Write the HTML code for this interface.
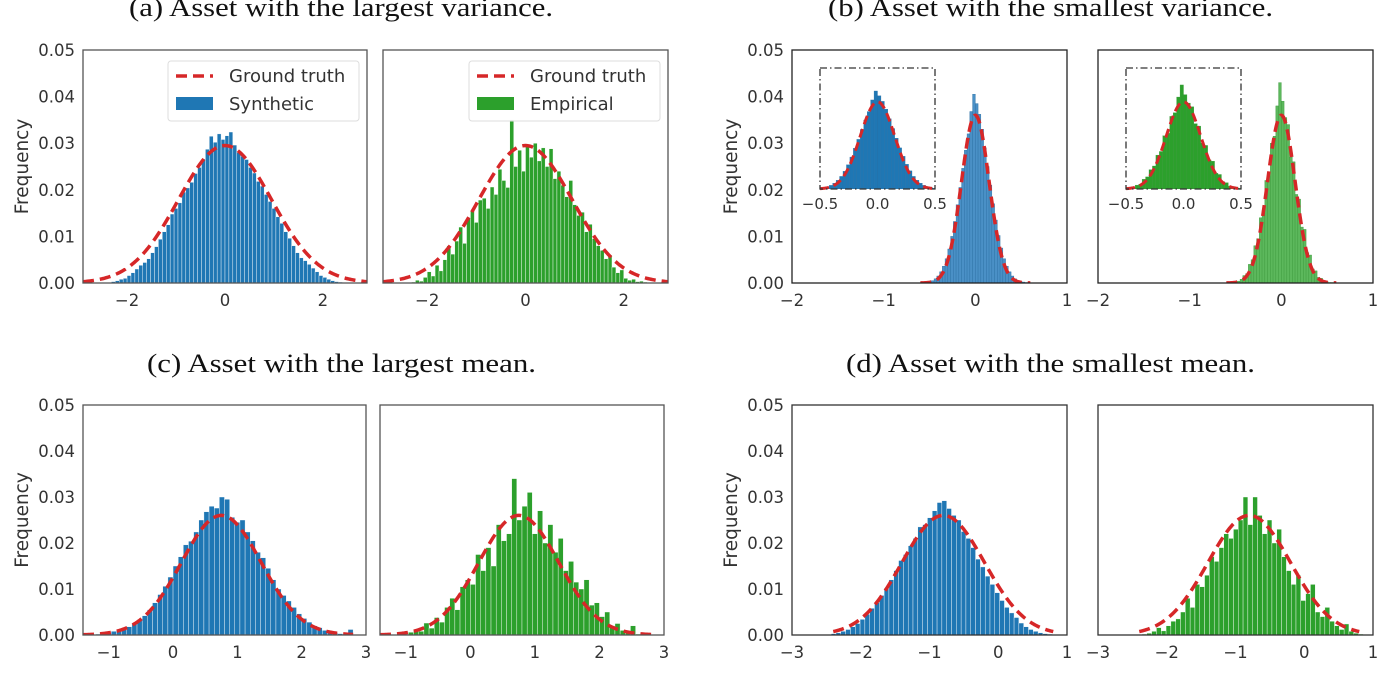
<!DOCTYPE html>
<html><head><meta charset="utf-8"><style>
html,body{margin:0;padding:0;background:#fff;}
svg{display:block;}
.tk{font-family:"DejaVu Sans","Liberation Sans",sans-serif;font-size:16.5px;fill:#333;}
.ttl{font-family:"Liberation Serif",serif;font-size:26px;fill:#111;}
</style></head><body>
<svg id="fig" width="1383" height="675" viewBox="0 0 1383 675" xmlns="http://www.w3.org/2000/svg">
<text class="ttl" x="129" y="16" textLength="424" lengthAdjust="spacingAndGlyphs">(a) Asset with the largest variance.</text>
<text class="ttl" x="828" y="16" textLength="445" lengthAdjust="spacingAndGlyphs">(b) Asset with the smallest variance.</text>
<text class="ttl" x="147" y="372" textLength="389" lengthAdjust="spacingAndGlyphs">(c) Asset with the largest mean.</text>
<text class="ttl" x="846" y="372" textLength="409" lengthAdjust="spacingAndGlyphs">(d) Asset with the smallest mean.</text>
</svg>
<script>
// ---- data (frequency values in units of 1e-3) ----
const yTicks = [0, 0.01, 0.02, 0.03, 0.04, 0.05];
const yTickLabels = ["0.00", "0.01", "0.02", "0.03", "0.04", "0.05"];
const xTicksA = [-2, 0, 2];
const xTicksB = [-2, -1, 0, 1];
const xTicksC = [-1, 0, 1, 2, 3];
const xTicksD = [-3, -2, -1, 0, 1];
const insetTicks = [-0.5, 0.0, 0.5];
const insetTickLabels = ["\u22120.5", "0.0", "0.5"];
const binStart = [-2.32, -0.6, -1.2, -2.5];
const binWidth = [0.08, 0.03, 0.08, 0.07];
const truthMean = [0, 0, 0.75, -0.8];
const truthSd = [0.95, 0.15, 0.62, 0.6];
const truthPeak = [0.0295, 0.036, 0.026, 0.026];
const synthA = [0.3,0.5,0.8,1.0,1.6,2.2,3.0,3.8,4.4,5.2,6.5,7.8,9.4,11.0,12.5,14.8,16.0,17.2,19.5,20.4,21.6,23.5,24.8,26.6,28.7,31.5,30.2,32.0,30.8,31.6,32.4,29.6,28.0,27.2,26.5,24.8,23.6,21.8,20.8,19.0,17.5,16.0,14.2,12.8,11.0,9.6,8.0,6.5,5.4,4.8,4.0,3.2,2.4,1.6,1.2,0.8,0.5,0.3,0.2,0.1];
const empA = [0.2,0.6,0.4,1.2,2.4,1.5,3.8,2.6,5.0,8.0,6.2,9.0,12.0,8.5,14.0,15.5,13.0,17.8,18.2,16.0,20.6,19.0,24.4,22.0,20.5,35.0,25.0,28.5,24.0,29.4,27.0,30.0,26.2,29.0,25.0,28.8,22.4,24.0,21.0,18.5,22.0,16.8,14.5,15.2,11.0,12.6,9.5,8.0,7.0,5.2,6.0,3.4,2.2,2.8,1.0,0.6,0.8,0.3,0.4,0.2];
const synthB = [0.1,0.1,0.2,0.3,0.5,0.9,1.5,2.4,3.6,5.2,7.3,10.0,13.2,16.8,20.5,24.6,28.5,32.0,36.8,40.5,38.5,36.2,33.0,29.0,25.0,21.0,17.0,13.5,10.2,7.5,5.2,3.6,2.4,1.5,0.9,0.5,0.3,0.2,0.1,0.05];
const empB = [0,0.1,0.1,0.2,0.4,0.8,1.6,2.0,4.0,5.0,8.0,9.5,14.0,15.5,22.0,23.0,30.0,31.5,38.0,43.0,39.0,35.5,34.0,27.0,26.0,19.0,18.0,12.0,11.5,6.5,6.0,3.0,2.6,1.2,1.0,0.4,0.3,0.1,0.1,0];
const synthC = [0.2,0.3,0.5,0.8,1.0,1.3,1.8,2.4,3.2,4.2,5.5,7.0,8.8,10.6,12.6,15.0,17.0,19.6,20.4,22.4,25.0,26.8,28.0,27.6,30.0,29.5,25.6,24.5,25.0,22.4,20.5,18.0,16.8,14.5,12.0,10.0,8.6,7.4,6.0,4.6,3.6,2.8,2.0,1.6,1.0,0.8,0.5,0.3,0.2,1.2];
const empC = [0.1,0.3,0.2,0.6,1.0,0.8,2.6,1.5,3.8,2.8,6.0,8.0,5.5,10.5,12.0,11.0,17.5,14.0,19.0,15.0,24.0,20.5,22.0,34.0,25.0,28.0,31.0,22.0,27.0,20.0,24.0,18.0,21.0,14.0,16.0,11.5,10.0,12.0,6.5,7.0,4.0,5.0,2.0,2.5,1.0,0.4,2.0,0.2,0.1,0];
const synthD = [0.1,0.3,0.5,0.8,1.2,1.8,2.5,3.4,4.5,5.8,7.0,8.6,10.2,12.0,14.0,16.2,17.5,19.4,21.0,23.5,24.0,25.5,27.0,28.8,29.2,27.5,26.0,25.0,22.5,21.0,19.0,16.5,14.8,12.8,11.0,9.2,7.5,6.0,4.8,3.8,2.6,1.8,1.2,0.8,0.5,0.3,0.2,0.1,0.05,0];
const empD = [0,0.1,0.2,0.4,0.8,1.6,0.9,2.0,3.0,3.5,5.0,8.0,6.0,11.0,10.5,13.0,17.0,16.0,19.0,22.0,21.0,23.0,25.0,30.0,24.0,30.0,26.0,22.0,25.0,20.0,23.0,17.0,14.0,11.0,13.0,7.5,9.0,11.0,5.0,4.0,6.0,3.0,2.0,1.2,2.4,0.8,0.4,0.2,0.1,0];

const NS = "http://www.w3.org/2000/svg";
const svg = document.getElementById("fig");
function mk(tag, attrs, parent) {
  const e = document.createElementNS(NS, tag);
  for (const k in attrs) e.setAttribute(k, attrs[k]);
  (parent || svg).appendChild(e);
  return e;
}
function fmt(v) { return v < 0 ? "\u2212" + Math.abs(v) : String(v); }

let clipId = 0;
function panel(p) {
  const g = mk("g", {});
  
  
  const sx = v => p.x0 + (v - p.xmin) / (p.xmax - p.xmin) * (p.x1 - p.x0);
  const sy = v => p.y1 - v / 0.05 * (p.y1 - p.y0);
  const cid = "clip" + (clipId++);
  const cp = mk("clipPath", { id: cid }, g);
  mk("rect", { x: p.x0, y: p.y0, width: p.x1 - p.x0, height: p.y1 - p.y0 }, cp);
  const bars = mk("g", { "clip-path": "url(#" + cid + ")" }, g);
  
  
  const vals = p.values;
  for (let i = 0; i < vals.length; i++) {
    const a = binStart[p.k] + i * binWidth[p.k];
    const xa = sx(a), xb = sx(a + binWidth[p.k]);
    const yv = sy(vals[i] / 1000);
    const r = mk("rect", { x: xa, y: yv, width: Math.max(0.5, xb - xa), height: p.y1 - yv, fill: p.color, stroke: p.edge, "stroke-width": 0.4 }, bars);
    
    
  }
  let d = "";
  const n = 200;
  for (let i = 0; i <= n; i++) {
    const xv = p.cmin + (p.cmax - p.cmin) * i / n;
    const yv = truthPeak[p.k] * Math.exp(-Math.pow(xv - truthMean[p.k], 2) / (2 * truthSd[p.k] * truthSd[p.k]));
    d += (i ? "L" : "M") + sx(xv).toFixed(2) + "," + sy(yv).toFixed(2);
  }
  const c = mk("path", { d: d, fill: "none", stroke: "#d62728", "stroke-width": 3.5, "stroke-dasharray": "11,6", "clip-path": "url(#" + cid + ")" }, g);
  
  
  const fr = mk("rect", { x: p.x0, y: p.y0, width: p.x1 - p.x0, height: p.y1 - p.y0, fill: "none", stroke: p.frame, "stroke-width": 1.3 }, g);
  
  
  for (const t of p.xticks) {
    const tl = mk("text", { class: "tk", x: sx(t), y: p.y1 + 23, "text-anchor": "middle" }, g);
    tl.textContent = fmt(t);
    
    
  }
  if (p.yaxis) {
    for (let i = 0; i < yTicks.length; i++) {
      const tl = mk("text", { class: "tk", x: p.x0 - 8, y: sy(yTicks[i]) + 6, "text-anchor": "end" }, g);
      tl.textContent = yTickLabels[i];
      
      
    }
    const yl = mk("text", { class: "tk", x: 0, y: 0, "text-anchor": "middle", style: "font-size:18.5px", transform: "translate(" + (p.x0 - 55) + "," + ((p.y0 + p.y1) / 2) + ") rotate(-90)" }, g);
    yl.textContent = "Frequency";
    
    
  }
  if (p.legend) {
    const lg = mk("g", {}, g);
    
    
    const lx = p.legend;
    mk("rect", { x: lx, y: p.y0 + 11, width: 191, height: 60, rx: 3, fill: "#fff", "fill-opacity": 0.85, stroke: "#ddd" }, lg);
    const ln = mk("line", { x1: lx + 8, y1: p.y0 + 26, x2: lx + 45, y2: p.y0 + 26, stroke: "#d62728", "stroke-width": 3.5, "stroke-dasharray": "11,6" }, lg);
    
    
    const t1 = mk("text", { class: "tk", x: lx + 61, y: p.y0 + 32, style: "font-size:18px" }, lg);
    t1.textContent = "Ground truth";
    const pt = mk("rect", { x: lx + 8, y: p.y0 + 47, width: 37, height: 13, fill: p.color }, lg);
    
    
    const t2 = mk("text", { class: "tk", x: lx + 61, y: p.y0 + 60, style: "font-size:18px" }, lg);
    t2.textContent = p.label;
  }
  if (p.inset) {
    const q = p.inset;
    const ig = mk("g", {}, g);
    
    
    const ix = v => q.x0 + (v + 0.5) / 1.0 * (q.x1 - q.x0);
    const ymax = truthPeak[p.k] / 0.72;
    const iy = v => q.y1 - v / ymax * (q.y1 - q.y0);
    const icid = "clip" + (clipId++);
    const icp = mk("clipPath", { id: icid }, ig);
    mk("rect", { x: q.x0, y: q.y0, width: q.x1 - q.x0, height: q.y1 - q.y0 }, icp);
    const ib = mk("g", { "clip-path": "url(#" + icid + ")" }, ig);
    for (let i = 0; i < vals.length; i++) {
      const a = binStart[p.k] + i * binWidth[p.k];
      const yv = iy(vals[i] / 1000);
      const r = mk("rect", { x: ix(a), y: yv, width: ix(a + binWidth[p.k]) - ix(a), height: q.y1 - yv, fill: p.insetColor, stroke: p.edge, "stroke-width": 0.3 }, ib);
      
      
    }
    let d2 = "";
    for (let i = 0; i <= n; i++) {
      const xv = -0.5 + i / n;
      const yv = truthPeak[p.k] * Math.exp(-Math.pow(xv - truthMean[p.k], 2) / (2 * truthSd[p.k] * truthSd[p.k]));
      d2 += (i ? "L" : "M") + ix(xv).toFixed(2) + "," + iy(yv).toFixed(2);
    }
    const ic = mk("path", { d: d2, fill: "none", stroke: "#d62728", "stroke-width": 3, "stroke-dasharray": "9,5" }, ig);
    
    
    mk("rect", { x: q.x0, y: q.y0, width: q.x1 - q.x0, height: q.y1 - q.y0, fill: "none", stroke: "#333", "stroke-width": 1.3, "stroke-dasharray": "7,3,1.5,3" }, ig);
    for (let i = 0; i < insetTicks.length; i++) {
      const tl = mk("text", { class: "tk", x: ix(insetTicks[i]), y: q.y1 + 20, "text-anchor": "middle", style: "font-size:15px" }, ig);
      tl.textContent = insetTickLabels[i];
      
      
    }
  }
}
const BLUE = "#1f77b4", GREEN = "#2ca02c";
panel({ name: "panel-a-synthetic", k: 0, values: synthA, x0: 83, x1: 367, y0: 50, y1: 283, xmin: -2.9, xmax: 2.9, cmin: -2.9, cmax: 2.9, xticks: xTicksA, yaxis: true, color: BLUE, edge: "#fff", frame: "#555", legend: 168, label: "Synthetic" });
panel({ name: "panel-a-empirical", k: 0, values: empA, x0: 383, x1: 668, y0: 50, y1: 283, xmin: -2.9, xmax: 2.9, cmin: -2.9, cmax: 2.9, xticks: xTicksA, yaxis: false, color: GREEN, edge: "#fff", frame: "#555", legend: 469, label: "Empirical" });
panel({ name: "panel-b-synthetic", k: 1, values: synthB, x0: 792, x1: 1067, y0: 50, y1: 283, xmin: -2, xmax: 1, cmin: -0.6, cmax: 0.6, xticks: xTicksB, yaxis: true, color: "#4a90c6", edge: "#2a6fa3", frame: "#222", inset: { x0: 820, x1: 935, y0: 68, y1: 189 }, insetColor: BLUE });
panel({ name: "panel-b-empirical", k: 1, values: empB, x0: 1098, x1: 1373, y0: 50, y1: 283, xmin: -2, xmax: 1, cmin: -0.6, cmax: 0.6, xticks: xTicksB, yaxis: false, color: "#5cb85c", edge: "#3a983a", frame: "#222", inset: { x0: 1126, x1: 1241, y0: 68, y1: 189 }, insetColor: GREEN });
panel({ name: "panel-c-synthetic", k: 2, values: synthC, x0: 83, x1: 366, y0: 405, y1: 635, xmin: -1.4, xmax: 3, cmin: -1.4, cmax: 2.8, xticks: xTicksC, yaxis: true, color: BLUE, edge: "#fff", frame: "#555" });
panel({ name: "panel-c-empirical", k: 2, values: empC, x0: 380, x1: 664, y0: 405, y1: 635, xmin: -1.4, xmax: 3, cmin: -1.4, cmax: 2.8, xticks: xTicksC, yaxis: false, color: GREEN, edge: "#fff", frame: "#555" });
panel({ name: "panel-d-synthetic", k: 3, values: synthD, x0: 792, x1: 1067, y0: 405, y1: 635, xmin: -3, xmax: 1, cmin: -2.4, cmax: 0.8, xticks: xTicksD, yaxis: true, color: BLUE, edge: "#fff", frame: "#333" });
panel({ name: "panel-d-empirical", k: 3, values: empD, x0: 1098, x1: 1373, y0: 405, y1: 635, xmin: -3, xmax: 1, cmin: -2.4, cmax: 0.8, xticks: xTicksD, yaxis: false, color: GREEN, edge: "#fff", frame: "#333" });
</script>
</body></html>
